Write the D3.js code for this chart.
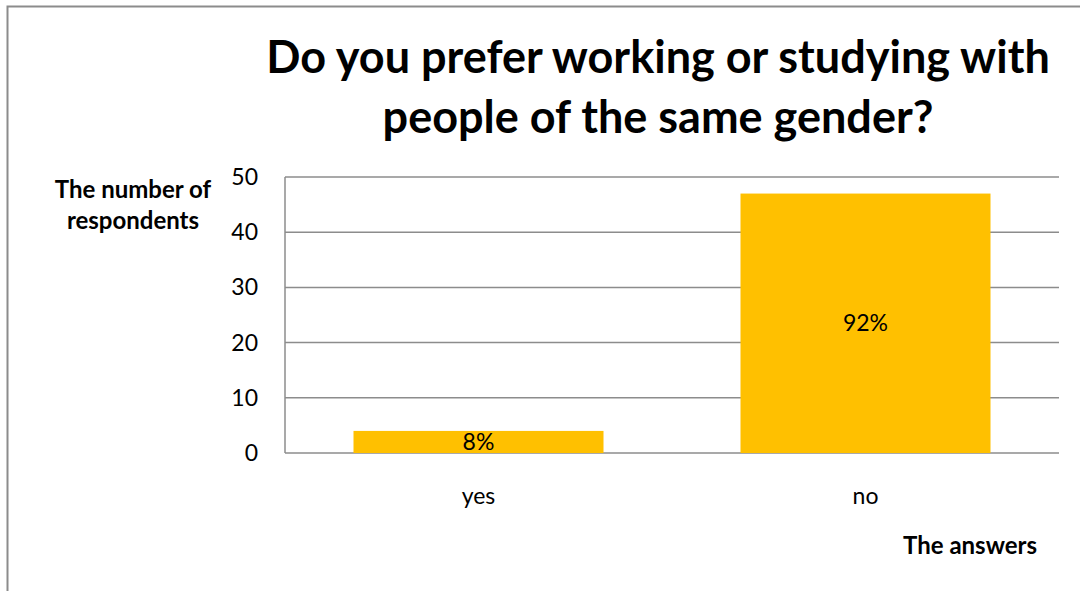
<!DOCTYPE html>
<html>
<head>
<meta charset="utf-8">
<script src="https://cdn.jsdelivr.net/npm/d3@7/dist/d3.min.js"></script>
<style>
  body { margin: 0; background: #fff; }
  text { font-family: Lato, "Open Sans", sans-serif; fill: #000; }
</style>
</head>
<body>
<svg id="chart" width="1080" height="591"></svg>
<script>
// data
const answers = ["yes", "no"];
const respondents = [4, 47];
const shares = ["8%", "92%"];
const yTicks = [0, 10, 20, 30, 40, 50];

const svg = d3.select("#chart");
const margin = { top: 177, right: 21, bottom: 138, left: 285 };
const width = 1080 - margin.left - margin.right;
const height = 591 - margin.top - margin.bottom;

// outer frame (runs off the right and bottom edge)
svg.append("rect")
  .attr("x", 7.5).attr("y", 6.5)
  .attr("width", 1100).attr("height", 700)
  .attr("fill", "none")
  .attr("stroke", "#8c8c8c")
  .attr("stroke-width", 2);

const g = svg.append("g").attr("transform", `translate(${margin.left},${margin.top})`);

const x = d3.scaleBand()
  .domain(answers)
  .range([0, width])
  .paddingInner(0.354)
  .paddingOuter(0.177);

const y = d3.scaleLinear().domain([0, 50]).range([height, 0]);

// gridlines
g.append("g")
  .selectAll("line")
  .data(yTicks)
  .join("line")
  .attr("x1", 0).attr("x2", width)
  .attr("y1", d => y(d)).attr("y2", d => y(d))
  .attr("stroke", "#8c8c8c")
  .attr("stroke-width", 1.5);

// y axis line
g.append("line")
  .attr("x1", 0).attr("x2", 0)
  .attr("y1", 0).attr("y2", height)
  .attr("stroke", "#8c8c8c")
  .attr("stroke-width", 1.5);

// bars
g.selectAll("rect.bar")
  .data(respondents)
  .join("rect")
  .attr("class", "bar")
  .attr("x", (d, i) => x(answers[i]))
  .attr("width", x.bandwidth())
  .attr("y", d => y(d))
  .attr("height", d => height - y(d))
  .attr("fill", "#ffc000");

// data labels
g.selectAll("text.lbl")
  .data(respondents)
  .join("text")
  .attr("class", "lbl")
  .attr("x", (d, i) => x(answers[i]) + x.bandwidth() / 2)
  .attr("y", d => (y(d) + height) / 2 + 8)
  .attr("text-anchor", "middle")
  .style("font-size", "23px")
  .text((d, i) => shares[i]);

// y tick labels
g.selectAll("text.ytick")
  .data(yTicks)
  .join("text")
  .attr("class", "ytick")
  .attr("x", -27)
  .attr("y", d => y(d) + 8)
  .attr("text-anchor", "end")
  .style("font-size", "23px")
  .text(d => d);

// x tick labels
g.selectAll("text.xtick")
  .data(answers)
  .join("text")
  .attr("class", "xtick")
  .attr("x", d => x(d) + x.bandwidth() / 2)
  .attr("y", height + 51)
  .attr("text-anchor", "middle")
  .style("font-size", "23px")
  .text(d => d);

// title
const title = svg.append("text")
  .attr("x", 658)
  .attr("text-anchor", "middle")
  .style("font-size", "45px")
  .style("font-weight", "bold");
title.append("tspan").attr("x", 658).attr("y", 73).text("Do you prefer working or studying with");
title.append("tspan").attr("x", 658).attr("y", 133).text("people of the same gender?");

// axis titles
const yTitle = svg.append("text")
  .attr("text-anchor", "middle")
  .style("font-size", "24px")
  .style("font-weight", "bold");
yTitle.append("tspan").attr("x", 133).attr("y", 198).text("The number of");
yTitle.append("tspan").attr("x", 133).attr("y", 229).text("respondents");

svg.append("text")
  .attr("x", 1037)
  .attr("y", 554)
  .attr("text-anchor", "end")
  .style("font-size", "24px")
  .style("font-weight", "bold")
  .text("The answers");
</script>
</body>
</html>
